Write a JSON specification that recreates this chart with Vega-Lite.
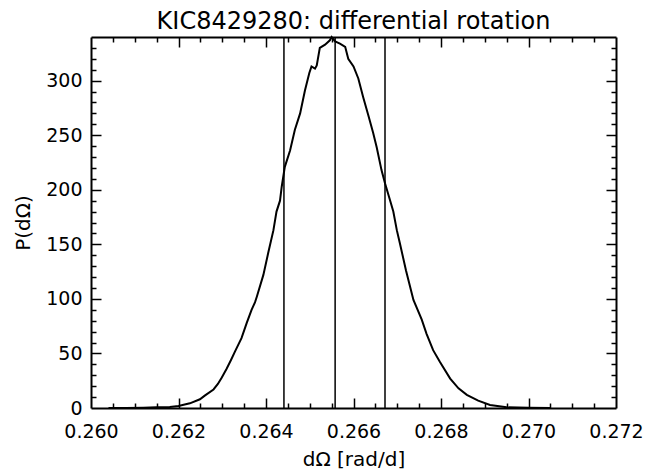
{
  "$schema": "https://vega.github.io/schema/vega-lite/v6.json",
  "width": 525,
  "height": 371,
  "autosize": {"type": "none"},
  "padding": {"left": 91, "top": 37, "right": 54, "bottom": 66},
  "background": "white",
  "config": {
    "view": {"stroke": null},
    "font": "DejaVu Sans",
    "axis": {
      "domainColor": "black",
      "domainWidth": 2,
      "tickColor": "black",
      "tickWidth": 1.5,
      "grid": false,
      "labelFont": "DejaVu Sans",
      "labelFontSize": 19,
      "labelColor": "black",
      "titleFont": "DejaVu Sans",
      "titleFontSize": 20,
      "titleFontWeight": "normal",
      "titleColor": "black"
    }
  },
  "title": {
    "text": "KIC8429280: differential rotation",
    "font": "DejaVu Sans",
    "fontSize": 24,
    "fontWeight": "normal",
    "color": "black",
    "anchor": "middle",
    "baseline": "bottom",
    "offset": -25
  },
  "datasets": {
    "curve": [
      {"dOmega": 0.2604, "P": 0},
      {"dOmega": 0.2608, "P": 0.1},
      {"dOmega": 0.2612, "P": 0.3},
      {"dOmega": 0.2615, "P": 0.6},
      {"dOmega": 0.2618, "P": 1.0},
      {"dOmega": 0.2620, "P": 1.8},
      {"dOmega": 0.26226, "P": 4.3},
      {"dOmega": 0.26249, "P": 8},
      {"dOmega": 0.2626, "P": 11.3},
      {"dOmega": 0.2628, "P": 17},
      {"dOmega": 0.2629, "P": 22},
      {"dOmega": 0.26299, "P": 28},
      {"dOmega": 0.2631, "P": 36},
      {"dOmega": 0.2632, "P": 44},
      {"dOmega": 0.26329, "P": 51.6},
      {"dOmega": 0.26344, "P": 64},
      {"dOmega": 0.26356, "P": 78},
      {"dOmega": 0.26367, "P": 90},
      {"dOmega": 0.26375, "P": 97},
      {"dOmega": 0.26379, "P": 102},
      {"dOmega": 0.26394, "P": 122},
      {"dOmega": 0.26405, "P": 142},
      {"dOmega": 0.26417, "P": 163},
      {"dOmega": 0.26424, "P": 180},
      {"dOmega": 0.26432, "P": 190},
      {"dOmega": 0.26436, "P": 203},
      {"dOmega": 0.26443, "P": 221},
      {"dOmega": 0.26455, "P": 236},
      {"dOmega": 0.26466, "P": 255},
      {"dOmega": 0.26478, "P": 270},
      {"dOmega": 0.26489, "P": 291},
      {"dOmega": 0.26499, "P": 307},
      {"dOmega": 0.26504, "P": 313},
      {"dOmega": 0.26512, "P": 311},
      {"dOmega": 0.26516, "P": 314},
      {"dOmega": 0.26523, "P": 330},
      {"dOmega": 0.26535, "P": 333},
      {"dOmega": 0.26546, "P": 337},
      {"dOmega": 0.26550, "P": 340},
      {"dOmega": 0.26558, "P": 336},
      {"dOmega": 0.26569, "P": 334},
      {"dOmega": 0.26581, "P": 331},
      {"dOmega": 0.26588, "P": 320},
      {"dOmega": 0.26600, "P": 313},
      {"dOmega": 0.26611, "P": 302},
      {"dOmega": 0.26622, "P": 285},
      {"dOmega": 0.26634, "P": 268},
      {"dOmega": 0.26645, "P": 252},
      {"dOmega": 0.26653, "P": 239},
      {"dOmega": 0.26664, "P": 218},
      {"dOmega": 0.26672, "P": 206},
      {"dOmega": 0.26683, "P": 191},
      {"dOmega": 0.26691, "P": 180},
      {"dOmega": 0.26699, "P": 163},
      {"dOmega": 0.26706, "P": 151},
      {"dOmega": 0.26720, "P": 126},
      {"dOmega": 0.26737, "P": 99},
      {"dOmega": 0.26756, "P": 81},
      {"dOmega": 0.26767, "P": 68},
      {"dOmega": 0.26782, "P": 53},
      {"dOmega": 0.26798, "P": 42},
      {"dOmega": 0.26821, "P": 27},
      {"dOmega": 0.26840, "P": 18},
      {"dOmega": 0.26859, "P": 12},
      {"dOmega": 0.26885, "P": 6.7},
      {"dOmega": 0.26912, "P": 2.7},
      {"dOmega": 0.26950, "P": 0.6},
      {"dOmega": 0.27000, "P": 0.2},
      {"dOmega": 0.27050, "P": 0}
    ],
    "markers": [
      {"dOmega": 0.26441},
      {"dOmega": 0.26558},
      {"dOmega": 0.26672}
    ]
  },
  "layer": [
    {
      "data": {"name": "curve"},
      "mark": {"type": "line", "color": "black", "strokeWidth": 2, "interpolate": "linear"},
      "encoding": {
        "x": {
          "field": "dOmega", "type": "quantitative",
          "scale": {"domain": [0.260, 0.272], "nice": false, "zero": false},
          "axis": {
            "orient": "bottom",
            "values": [0.260, 0.262, 0.264, 0.266, 0.268, 0.270, 0.272],
            "format": ".3f",
            "ticks": false,
            "labelPadding": 14,
            "labelFlush": false,
            "labelOverlap": false,
            "title": "dΩ [rad/d]",
            "titlePadding": 8
          }
        },
        "y": {
          "field": "P", "type": "quantitative",
          "scale": {"domain": [0, 340], "nice": false, "zero": false},
          "axis": {
            "orient": "left",
            "values": [0, 50, 100, 150, 200, 250, 300],
            "format": "d",
            "ticks": false,
            "labelPadding": 9,
            "labelFlush": false,
            "labelOverlap": false,
            "title": "P(dΩ)",
            "titlePadding": 12
          }
        }
      }
    },
    {
      "data": {"name": "curve"},
      "mark": {"type": "line", "strokeOpacity": 0},
      "encoding": {
        "x": {
          "field": "dOmega", "type": "quantitative",
          "scale": {"domain": [0.260, 0.272], "nice": false, "zero": false},
          "axis": {"orient": "top", "values": [0.260], "ticks": false, "labels": false, "title": null}
        },
        "y": {
          "field": "P", "type": "quantitative",
          "scale": {"domain": [0, 340], "nice": false, "zero": false},
          "axis": {"orient": "right", "values": [0], "ticks": false, "labels": false, "title": null}
        }
      }
    },
    {
      "data": {"name": "curve"},
      "mark": {"type": "line", "strokeOpacity": 0},
      "encoding": {
        "x": {
          "field": "dOmega", "type": "quantitative",
          "scale": {"domain": [0.260, 0.272], "nice": false, "zero": false},
          "axis": {
            "orient": "bottom", "offset": -10, "domain": false,
            "values": [0.262, 0.264, 0.266, 0.268, 0.270],
            "tickSize": 10, "labels": false, "title": null
          }
        },
        "y": {
          "field": "P", "type": "quantitative",
          "scale": {"domain": [0, 340], "nice": false, "zero": false},
          "axis": {
            "orient": "left", "offset": -10, "domain": false,
            "values": [50, 100, 150, 200, 250, 300],
            "tickSize": 10, "labels": false, "title": null
          }
        }
      }
    },
    {
      "data": {"name": "curve"},
      "mark": {"type": "line", "strokeOpacity": 0},
      "encoding": {
        "x": {
          "field": "dOmega", "type": "quantitative",
          "scale": {"domain": [0.260, 0.272], "nice": false, "zero": false},
          "axis": {
            "orient": "top", "offset": -10, "domain": false,
            "values": [0.262, 0.264, 0.266, 0.268, 0.270],
            "tickSize": 10, "labels": false, "title": null
          }
        },
        "y": {
          "field": "P", "type": "quantitative",
          "scale": {"domain": [0, 340], "nice": false, "zero": false},
          "axis": {
            "orient": "right", "offset": -10, "domain": false,
            "values": [50, 100, 150, 200, 250, 300],
            "tickSize": 10, "labels": false, "title": null
          }
        }
      }
    },
    {
      "data": {"name": "curve"},
      "mark": {"type": "line", "strokeOpacity": 0},
      "encoding": {
        "x": {
          "field": "dOmega", "type": "quantitative",
          "scale": {"domain": [0.260, 0.272], "nice": false, "zero": false},
          "axis": {
            "orient": "bottom", "offset": -5, "domain": false,
            "values": [0.2605, 0.261, 0.2615, 0.2625, 0.263, 0.2635, 0.2645, 0.265, 0.2655, 0.2665, 0.267, 0.2675, 0.2685, 0.269, 0.2695, 0.2705, 0.271, 0.2715],
            "tickSize": 5, "labels": false, "title": null
          }
        },
        "y": {
          "field": "P", "type": "quantitative",
          "scale": {"domain": [0, 340], "nice": false, "zero": false},
          "axis": {
            "orient": "left", "offset": -5, "domain": false,
            "values": [10, 20, 30, 40, 60, 70, 80, 90, 110, 120, 130, 140, 160, 170, 180, 190, 210, 220, 230, 240, 260, 270, 280, 290, 310, 320, 330],
            "tickSize": 5, "labels": false, "title": null
          }
        }
      }
    },
    {
      "data": {"name": "curve"},
      "mark": {"type": "line", "strokeOpacity": 0},
      "encoding": {
        "x": {
          "field": "dOmega", "type": "quantitative",
          "scale": {"domain": [0.260, 0.272], "nice": false, "zero": false},
          "axis": {
            "orient": "top", "offset": -5, "domain": false,
            "values": [0.2605, 0.261, 0.2615, 0.2625, 0.263, 0.2635, 0.2645, 0.265, 0.2655, 0.2665, 0.267, 0.2675, 0.2685, 0.269, 0.2695, 0.2705, 0.271, 0.2715],
            "tickSize": 5, "labels": false, "title": null
          }
        },
        "y": {
          "field": "P", "type": "quantitative",
          "scale": {"domain": [0, 340], "nice": false, "zero": false},
          "axis": {
            "orient": "right", "offset": -5, "domain": false,
            "values": [10, 20, 30, 40, 60, 70, 80, 90, 110, 120, 130, 140, 160, 170, 180, 190, 210, 220, 230, 240, 260, 270, 280, 290, 310, 320, 330],
            "tickSize": 5, "labels": false, "title": null
          }
        }
      }
    },
    {
      "data": {"name": "markers"},
      "mark": {"type": "rule", "color": "black", "strokeWidth": 1.5},
      "encoding": {
        "x": {
          "field": "dOmega", "type": "quantitative",
          "scale": {"domain": [0.260, 0.272], "nice": false, "zero": false},
          "axis": null
        }
      }
    }
  ],
  "resolve": {"axis": {"x": "independent", "y": "independent"}}
}
